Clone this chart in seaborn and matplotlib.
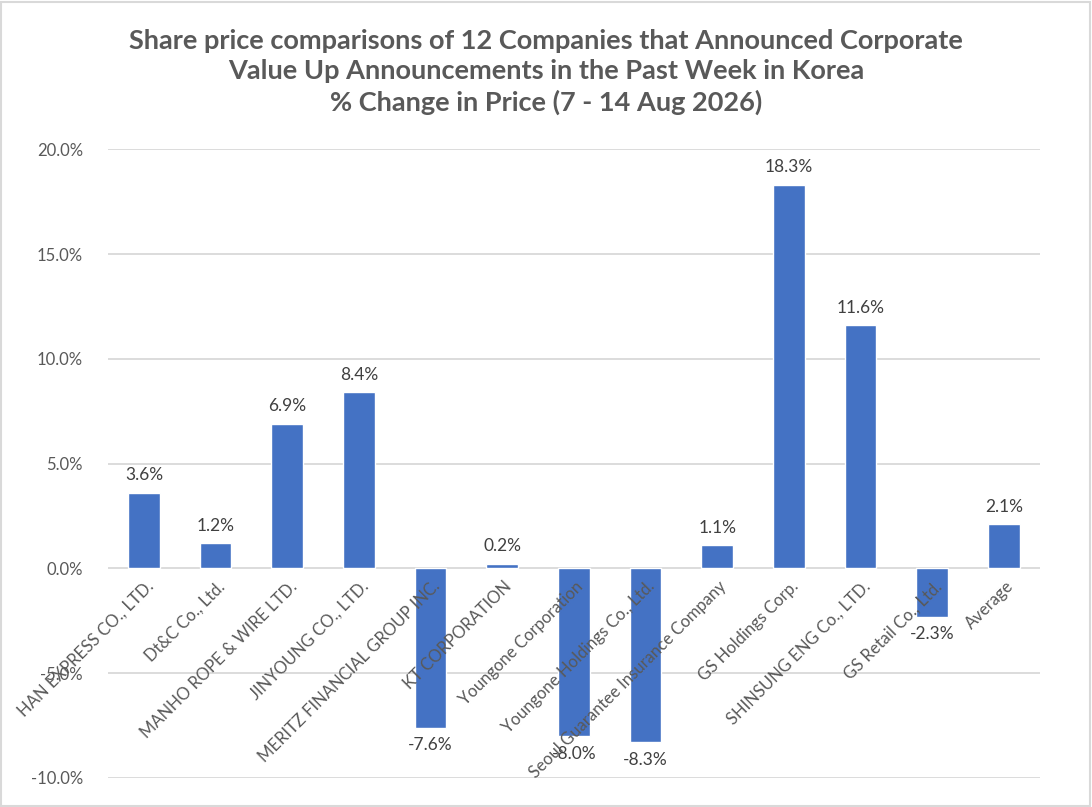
import matplotlib
matplotlib.use("Agg")
import matplotlib.pyplot as plt
import seaborn as sns
import pandas as pd
from matplotlib.patches import Rectangle

companies = [
    "HAN EXPRESS CO., LTD.", "Dt&C Co., Ltd.", "MANHO ROPE & WIRE LTD.",
    "JINYOUNG CO., LTD.", "MERITZ FINANCIAL GROUP INC.", "KT CORPORATION",
    "Youngone Corporation", "Youngone Holdings Co., Ltd.",
    "Seoul Guarantee Insurance Company", "GS Holdings Corp.",
    "SHINSUNG ENG Co., LTD.", "GS Retail Co., Ltd.", "Average",
]
pct_change = [3.6, 1.2, 6.9, 8.4, -7.6, 0.2, -8.0, -8.3, 1.1, 18.3, 11.6, -2.3, 2.1]
y_ticks = [-10, -5, 0, 5, 10, 15, 20]
title_lines = [
    "Share price comparisons of 12 Companies that Announced Corporate",
    "Value Up Announcements in the Past Week in Korea",
    "% Change in Price (7 - 14 Aug 2026)",
]

sns.set_theme(style="white")
plt.rcParams["font.family"] = ["Lato", "DejaVu Sans"]

df = pd.DataFrame({"company": companies, "value": pct_change})

fig = plt.figure(figsize=(10.92, 8.07), dpi=100)
ax = fig.add_axes([0.099, 0.036, 0.853, 0.779])

sns.barplot(data=df, x="company", y="value", color="#4472C4", width=0.44,
            saturation=1, ax=ax, zorder=3)

ax.set_ylim(-10, 20)
ax.set_yticks(y_ticks)
ax.set_yticklabels([f"{t:.1f}%" for t in y_ticks], color="#595959", fontsize=12)
ax.tick_params(axis="y", length=0, pad=18)
ax.grid(axis="y", color="#D9D9D9", linewidth=1.3, zorder=0)
ax.set_axisbelow(True)
for s in ax.spines.values():
    s.set_visible(False)
ax.set_xticks([])
ax.set_xlabel("")
ax.set_ylabel("")
ax.set_xlim(-0.5, len(companies) - 0.5)

# data labels
ax.bar_label(ax.containers[0], labels=[f"{v:.1f}%" for v in pct_change],
             padding=7, color="#404040", fontsize=12.5)

# category labels at zero line
for i, name in enumerate(companies):
    ax.annotate(name, xy=(i, 0), xytext=(1, -7), textcoords="offset points",
                rotation=45, ha="right", va="top", rotation_mode="anchor",
                color="#595959", fontsize=12, zorder=4)

fig.text(0.5, 0.911, "\n".join(title_lines), ha="center", va="center",
         fontsize=19.5, fontweight="bold", color="#595959", linespacing=1.3)

fig.patches.append(Rectangle((0.001, 0.001), 0.997, 0.997, transform=fig.transFigure,
                             fill=False, edgecolor="#D9D9D9", linewidth=1.5))

fig.savefig("out.png", dpi=100)
